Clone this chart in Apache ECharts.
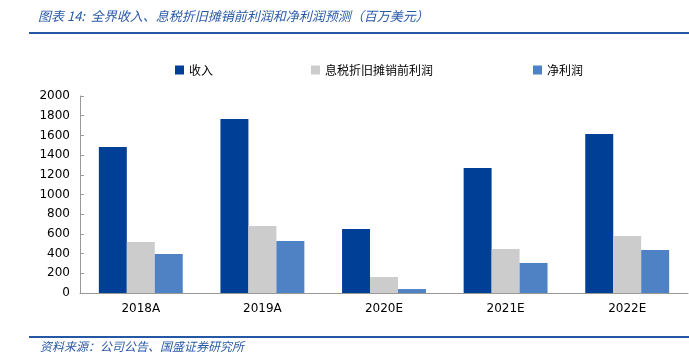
<!DOCTYPE html>
<html><head><meta charset="utf-8">
<script src="https://cdn.jsdelivr.net/npm/echarts@6/dist/echarts.min.js"></script>
<style>html,body{margin:0;padding:0;background:#fff}#c{width:689px;height:359px}</style>
</head><body><div id="c"></div>
<script>
const categories = ['2018A','2019A','2020E','2021E','2022E'];
const revenue = [1482, 1766, 650, 1269, 1614];
const ebitda = [518, 680, 162, 447, 579];
const netProfit = [396, 528, 40, 305, 437];
const yTicks = [0, 2000, 200];
const seriesNames = ['收入','息税折旧摊销前利润','净利润'];
const colors = ['#003F96','#CCCCCC','#4F81C5'];

const chart = echarts.init(document.getElementById('c'));
const txtFont = 'DejaVu Sans';
const cjk = 'Noto Sans CJK SC';
chart.setOption({
  animation: false,
  color: colors,
  grid: {left: 80, right: 1, top: 96, bottom: 66, containLabel: false},
  legend: [
    {data: [seriesNames[0]], left: 170, top: 59, itemWidth: 9, itemHeight: 9, icon: 'rect', itemGap: 2, textStyle: {fontFamily: cjk, fontSize: 12, color: '#000'}},
    {data: [seriesNames[1]], left: 306, top: 59, itemWidth: 9, itemHeight: 9, icon: 'rect', itemGap: 2, textStyle: {fontFamily: cjk, fontSize: 12, color: '#000'}},
    {data: [seriesNames[2]], left: 528, top: 59, itemWidth: 9, itemHeight: 9, icon: 'rect', itemGap: 2, textStyle: {fontFamily: cjk, fontSize: 12, color: '#000'}}
  ],
  xAxis: {
    type: 'category', data: categories,
    axisLine: {lineStyle: {color: '#999'}},
    axisTick: {inside: true, length: 5, lineStyle: {color: '#999'}},
    axisLabel: {fontFamily: txtFont, fontSize: 12, color: '#000', margin: 10}
  },
  yAxis: {
    type: 'value', min: yTicks[0], max: yTicks[1], interval: yTicks[2],
    splitLine: {show: false},
    axisLine: {show: true, lineStyle: {color: '#999'}},
    axisTick: {show: true, inside: true, length: 4, lineStyle: {color: '#999'}},
    axisLabel: {fontFamily: txtFont, fontSize: 12, color: '#000', margin: 10, formatter: v => String(v)}
  },
  series: [
    {name: seriesNames[0], type: 'bar', data: revenue, barGap: '0%', barCategoryGap: '31%'},
    {name: seriesNames[1], type: 'bar', data: ebitda, barGap: '0%', barCategoryGap: '31%'},
    {name: seriesNames[2], type: 'bar', data: netProfit, barGap: '0%', barCategoryGap: '31%'}
  ],
  graphic: [
    {type: 'text', left: 38, top: 10, style: {text: '图表 14:  全界收入、息税折旧摊销前利润和净利润预测（百万美元）', font: 'italic 13px "Noto Sans CJK SC"', fill: '#2A5AA6'}},
    {type: 'rect', shape: {x: 29, y: 32, width: 660, height: 2}, style: {fill: '#2457A4'}},
    {type: 'rect', shape: {x: 29, y: 336, width: 660, height: 2}, style: {fill: '#2457A4'}},
    {type: 'text', left: 40, top: 340, style: {text: '资料来源：公司公告、国盛证券研究所', font: 'italic 12px "Noto Sans CJK SC"', fill: '#2A5AA6'}}
  ]
});
</script></body></html>
